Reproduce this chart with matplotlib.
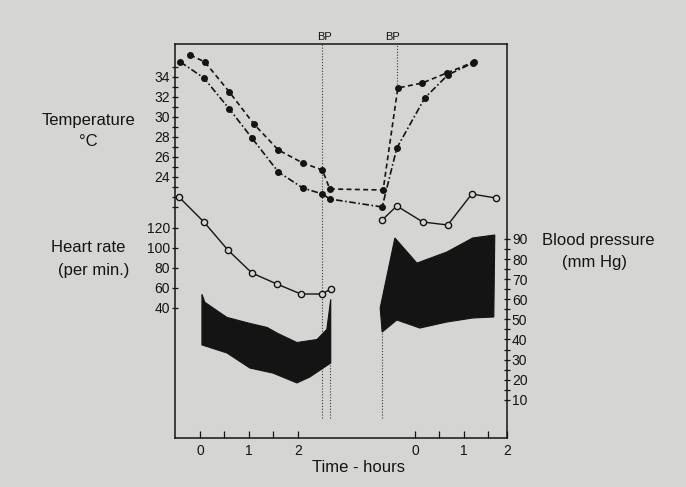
import numpy as np
import matplotlib
matplotlib.use("Agg")
import matplotlib.pyplot as plt
from matplotlib.ticker import FixedLocator, NullFormatter

plt.rcParams['font.family'] = ['Liberation Sans', 'DejaVu Sans']

# time offset of the second (rewarming) segment on the shared axis, hours
OFF = 4.39

# temperature (deg C), filled circles -- two sites
tA1 = [-0.2, 0.1, 0.6, 1.1, 1.6, 2.1, 2.5, 2.65]
tempA1 = [36.2, 35.5, 32.5, 29.3, 26.7, 25.4, 24.7, 22.8]
tA2 = [-0.65, -0.35, 0.15, 0.65, 1.2]
tempA2 = [22.7, 32.9, 33.4, 34.4, 35.5]

tB1 = [-0.4, 0.08, 0.6, 1.06, 1.6, 2.1, 2.5, 2.65]
tempB1 = [35.5, 33.9, 30.8, 27.9, 24.5, 22.9, 22.3, 21.8]
tB2 = [-0.67, -0.37, 0.2, 0.67, 1.18]
tempB2 = [21.0, 26.9, 31.9, 34.2, 35.4]

# heart rate (per min), open circles
tH1 = [-0.43, 0.08, 0.57, 1.06, 1.57, 2.06, 2.49, 2.67]
hr1 = [151, 126, 98, 75, 64, 54, 54, 59]
tH2 = [-0.67, -0.37, 0.16, 0.67, 1.16, 1.65]
hr2 = [128, 142, 126, 123, 154, 150]

# blood pressure (mm Hg), systolic / diastolic envelope
tS1 = [0.04, 0.1, 0.55, 1.02, 1.37, 1.59, 1.98, 2.39, 2.59, 2.67]
sys1 = [62.5, 58.5, 51, 48, 46, 43, 38.5, 40, 45, 60]
tD1 = [0.04, 0.55, 1.02, 1.49, 1.98, 2.24, 2.67]
dia1 = [37.3, 33.3, 25.8, 23.3, 18.4, 21.3, 28.3]

tS2 = [-0.71, -0.41, 0.04, 0.65, 1.18, 1.63]
sys2 = [55.7, 90.5, 78, 83.5, 90.5, 92]
tD2 = [-0.67, -0.37, 0.1, 0.65, 1.18, 1.61]
dia2 = [43.7, 49.7, 45.7, 48.7, 50.7, 51.2]

bg = '#d5d5d3'
ink = '#141414'

fig = plt.figure(figsize=(6.86, 4.87), dpi=100, facecolor=bg)
ax = fig.add_axes([0.2551, 0.1006, 0.4840, 0.8091])
ax.set_facecolor(bg)
ax_h = ax.twinx()
ax_b = ax.twinx()

ax.set_xlim(-0.51, 6.27)
ax.set_ylim(-2.1, 37.3)
ax_h.set_ylim(-90, 304)
ax_b.set_ylim(-9, 187)

def seg2(t):
    return [OFF + v for v in t]

# BP marker lines
dot = dict(color='#3a3a3a', lw=0.8, ls=(0, (1, 1.6)), zorder=1)
ax.axvline(2.5, ymin=0.05, ymax=1, **dot)
ax.axvline(2.66, ymin=0.05, ymax=0.35, **dot)
ax.axvline(OFF - 0.67, ymin=0.05, ymax=0.3, **dot)
ax.axvline(OFF - 0.37, ymin=0.89, ymax=1, **dot)

# blood pressure fills
ax_b.fill(tS1 + tD1[::-1], sys1 + dia1[::-1], color=ink, lw=0.8, ec=ink, zorder=3)
ax_b.fill(seg2(tS2) + seg2(tD2)[::-1], sys2 + dia2[::-1], color=ink, lw=0.8, ec=ink, zorder=3)

# temperature
ax.plot(tA1 + seg2(tA2), tempA1 + tempA2, color=ink, lw=1.2, ls=(0, (3, 2)),
        marker='o', ms=4, mfc=ink, mec=ink, zorder=4)
ax.plot(tB1 + seg2(tB2), tempB1 + tempB2, color=ink, lw=1.2, ls=(0, (4, 1.5, 1, 1.5)),
        marker='o', ms=4, mfc=ink, mec=ink, zorder=4)

# heart rate
for tt, vv in [(tH1, hr1), (seg2(tH2), hr2)]:
    ax_h.plot(tt, vv, color=ink, lw=1.0, marker='o', ms=4.5, mfc=bg, mec=ink, mew=1.0, zorder=4)

# axes styling
for a in (ax_h, ax_b):
    for s in a.spines.values():
        s.set_visible(False)
for s in ax.spines.values():
    s.set_color(ink)
    s.set_linewidth(1.1)

ax.yaxis.set_major_locator(FixedLocator([24, 26, 28, 30, 32, 34]))
ax.yaxis.set_minor_locator(FixedLocator(list(range(21, 36))))
ax.tick_params(axis='y', which='both', direction='inout', length=5, width=0.9,
               labelsize=10, pad=1, colors=ink)

ax_h.yaxis.tick_left()
ax_h.yaxis.set_major_locator(FixedLocator([40, 60, 80, 100, 120]))
ax_h.tick_params(axis='y', direction='inout', length=5, width=0.9, labelsize=10, pad=1, colors=ink)

ax_b.yaxis.tick_right()
ax_b.yaxis.set_major_locator(FixedLocator([10, 20, 30, 40, 50, 60, 70, 80, 90]))
ax_b.yaxis.set_minor_locator(FixedLocator([15, 25, 35, 45, 55, 65, 75, 85]))
ax_b.tick_params(axis='y', which='both', direction='inout', length=5, width=0.9,
                 labelsize=10, pad=1, colors=ink)

xt = [0, 1, 2, OFF, OFF + 1, 6.27]
ax.xaxis.set_major_locator(FixedLocator(xt))
ax.set_xticklabels(['0', '1', '2', '0', '1', '2'])
ax.xaxis.set_minor_locator(FixedLocator([0.5, 1.5, OFF + 0.5, OFF + 1.5]))
ax.tick_params(axis='x', which='both', direction='in', length=5, width=0.9,
               labelsize=10, pad=4, colors=ink)

# labels
fs = 12
fig.text(88 / 686, 1 - 121 / 487, 'Temperature', ha='center', va='center', fontsize=fs, color=ink)
fig.text(88 / 686, 1 - 142 / 487, '°C', ha='center', va='center', fontsize=fs, color=ink)
fig.text(88 / 686, 1 - 248 / 487, 'Heart rate', ha='center', va='center', fontsize=fs, color=ink)
fig.text(94 / 686, 1 - 270 / 487, '(per min.)', ha='center', va='center', fontsize=fs, color=ink)
fig.text(598 / 686, 1 - 240 / 487, 'Blood pressure', ha='center', va='center', fontsize=fs, color=ink)
fig.text(594 / 686, 1 - 262 / 487, '(mm Hg)', ha='center', va='center', fontsize=fs, color=ink)
fig.text(358 / 686, 1 - 467 / 487, 'Time - hours', ha='center', va='center', fontsize=fs, color=ink)
fig.text(324 / 686, 1 - 37 / 487, 'BP', ha='center', va='center', fontsize=8, color=ink)
fig.text(392 / 686, 1 - 37 / 487, 'BP', ha='center', va='center', fontsize=8, color=ink)

fig.savefig('out.png', dpi=100, facecolor=bg)
